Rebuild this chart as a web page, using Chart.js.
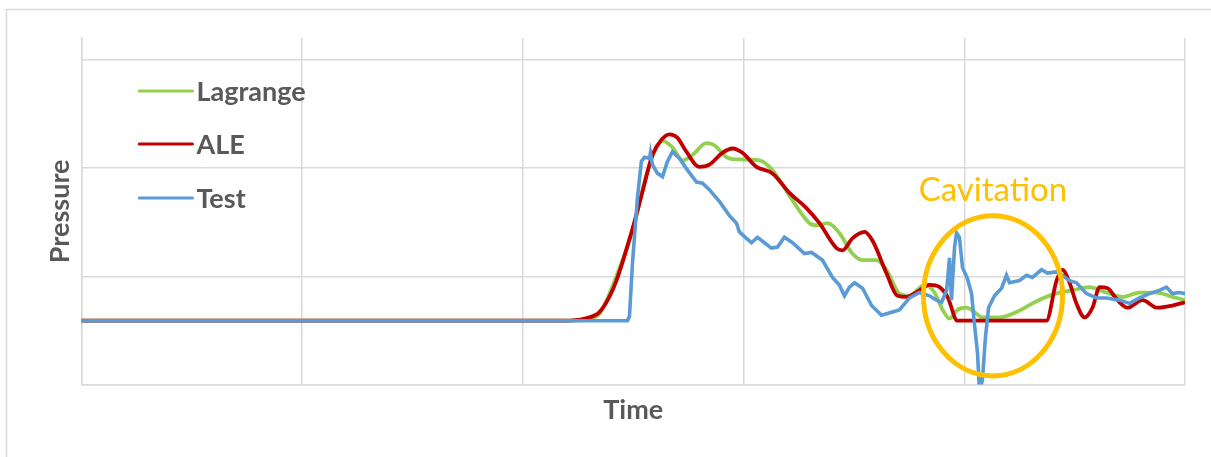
<!DOCTYPE html>
<html>
<head>
<meta charset="utf-8">
<script src="https://cdn.jsdelivr.net/npm/chart.js"></script>
<style>
  html, body { margin: 0; padding: 0; background: #fff; }
  #wrap { width: 1211px; height: 457px; }
</style>
</head>
<body>
<div id="wrap"><canvas id="chart" width="1211" height="457"></canvas></div>
<script>
// --- datos (tiempo y presion en unidades arbitrarias) ---
const lagrangeTime = [0, 22.3, 23.0, 23.5, 24.2, 25.0, 25.6, 26.05, 26.33, 26.78, 27.23, 27.68, 28.32, 28.68, 29.22, 29.68, 30.72, 31.31, 32.22, 32.99, 33.35, 33.8, 34.34, 34.93, 35.39, 36.02, 36.47, 37.06, 37.52, 38.2, 38.65, 38.97, 39.33, 39.69, 40.1, 40.46, 40.82, 41.59, 42.36, 43.09, 43.72, 44.31, 44.9, 45.67, 46.44, 47.17, 47.94, 48.71, 49.43, 50];
const lagrangeP    = [5.9, 5.9, 6.1, 6.6, 9.8, 14.4, 19.4, 21.9, 22.5, 21.9, 20.7, 21.2, 22.3, 22.1, 21.0, 20.8, 20.7, 19.8, 17.0, 14.9, 14.7, 14.9, 14.0, 12.1, 11.5, 11.5, 10.6, 8.4, 8.2, 9.2, 8.5, 7.1, 6.1, 6.9, 7.1, 6.7, 6.2, 6.2, 6.7, 7.5, 8.1, 8.5, 8.7, 9.0, 8.5, 8.1, 8.5, 8.5, 8.1, 7.8];

const aleTime = [0, 21.9, 22.8, 23.47, 23.92, 24.24, 24.97, 25.42, 25.87, 26.28, 26.64, 27.0, 27.41, 28.0, 28.45, 29.04, 29.5, 29.95, 30.58, 31.31, 32.08, 32.85, 33.44, 34.21, 34.48, 34.93, 35.48, 35.84, 36.47, 36.97, 37.38, 37.97, 38.42, 38.88, 39.24, 39.69, 43.72, 44.18, 44.45, 44.77, 45.08, 45.45, 45.81, 46.13, 46.49, 46.94, 47.39, 48.07, 48.75, 49.43, 50];
const aleP    = [5.9, 5.9, 6.1, 6.7, 8.1, 9.6, 14.4, 17.8, 21.2, 22.6, 23.1, 22.8, 21.5, 20.1, 20.3, 21.4, 21.8, 21.4, 20.1, 19.5, 17.7, 16.3, 14.9, 12.6, 12.4, 13.5, 14.1, 13.3, 10.3, 8.2, 8.1, 8.7, 9.2, 9.0, 8.1, 5.9, 5.9, 9.6, 10.6, 9.4, 7.5, 6.2, 7.1, 9.0, 8.9, 7.8, 7.1, 7.8, 7.1, 7.3, 7.6];

const testTime = [0, 24.74, 24.83, 24.97, 25.19, 25.37, 25.51, 25.74, 25.78, 25.87, 26.1, 26.33, 26.55, 26.78, 27.09, 27.46, 27.87, 28.14, 28.45, 28.91, 29.36, 29.68, 29.81, 30.13, 30.36, 30.63, 30.95, 31.26, 31.54, 31.85, 32.22, 32.76, 33.08, 33.57, 34.03, 34.34, 34.57, 34.8, 35.03, 35.39, 35.8, 36.25, 36.75, 37.06, 37.52, 37.97, 38.42, 38.74, 38.97, 39.2, 39.33, 39.42, 39.47, 39.56, 39.65, 39.78, 39.92, 40.14, 40.33, 40.46, 40.6, 40.69, 40.82, 40.96, 41.1, 41.37, 41.69, 41.91, 42.05, 42.5, 42.82, 43.09, 43.5, 43.77, 44.18, 44.31, 44.77, 45.08, 45.54, 45.99, 46.44, 47.03, 47.49, 47.94, 48.39, 48.84, 49.16, 49.43, 49.75, 50];
const testP    = [5.9, 5.9, 6.3, 11.3, 17.2, 20.6, 21.0, 20.9, 21.4, 20.3, 19.5, 19.2, 20.6, 21.5, 20.9, 19.8, 18.7, 18.6, 18.0, 16.9, 15.6, 14.9, 14.1, 13.5, 13.1, 13.6, 13.1, 12.6, 12.7, 13.6, 13.1, 12.1, 12.2, 11.5, 9.9, 9.2, 8.2, 9.0, 9.4, 8.9, 7.3, 6.4, 6.7, 6.9, 8.0, 8.5, 8.2, 7.8, 7.6, 8.7, 11.7, 7.8, 9.6, 12.7, 14.0, 13.6, 10.8, 9.8, 8.4, 5.6, 2.9, -0.6, 0.4, 4.4, 7.1, 8.2, 8.9, 10.1, 9.4, 9.6, 10.1, 9.9, 10.6, 10.3, 10.4, 10.3, 9.6, 9.4, 8.4, 8.0, 8.0, 7.8, 7.5, 8.0, 8.4, 8.7, 9.0, 8.4, 8.5, 8.4];

// zona de cavitacion (centro y radios en unidades de datos)
const cavitationLabel = 'Cavitation';
const cavitationZone = [41.3, 8.2, 3.15, 7.4];

const GRID = '#D9D9D9';
const TEXT = '#595959';

function toPoints(xs, ys) {
  return xs.map((x, i) => ({ x: x, y: ys[i] }));
}

// marco exterior
const frame = {
  id: 'frame',
  beforeDraw(chart) {
    const c = chart.ctx;
    c.save();
    c.fillStyle = '#fff';
    c.fillRect(0, 0, chart.width, chart.height);
    c.strokeStyle = GRID;
    c.lineWidth = 1.5;
    c.strokeRect(6.5, 9.5, chart.width + 10, chart.height + 10);
    c.restore();
  }
};

// leyenda dentro del area del grafico
const innerLegend = {
  id: 'innerLegend',
  afterDraw(chart) {
    const c = chart.ctx;
    const a = chart.chartArea;
    const rows = [53, 106, 160];
    const order = [2, 1, 0];
    c.save();
    c.font = 'bold 27px Lato';
    c.textBaseline = 'middle';
    order.forEach((di, i) => {
      const ds = chart.data.datasets[di];
      const y = a.top + rows[i];
      c.strokeStyle = ds.borderColor;
      c.lineWidth = 3.2;
      c.lineCap = 'round';
      c.beginPath();
      c.moveTo(a.left + 58, y);
      c.lineTo(a.left + 111, y);
      c.stroke();
      c.fillStyle = TEXT;
      c.fillText(ds.label, a.left + 115, y + 1);
    });
    c.restore();
  }
};

// elipse y texto de cavitacion
const cavitation = {
  id: 'cavitation',
  afterDatasetsDraw(chart) {
    const c = chart.ctx;
    const xs = chart.scales.x, ys = chart.scales.y;
    const cx = xs.getPixelForValue(cavitationZone[0]);
    const cy = ys.getPixelForValue(cavitationZone[1]);
    const rx = xs.getPixelForValue(cavitationZone[0] + cavitationZone[2]) - cx;
    const ry = cy - ys.getPixelForValue(cavitationZone[1] + cavitationZone[3]);
    c.save();
    c.strokeStyle = '#FFC000';
    c.lineWidth = 5;
    c.beginPath();
    c.ellipse(cx, cy, rx, ry, 0, 0, Math.PI * 2);
    c.stroke();
    c.fillStyle = '#FFC000';
    c.font = '33px Lato';
    c.textAlign = 'center';
    c.textBaseline = 'alphabetic';
    c.fillText(cavitationLabel, cx, cy - ry - 15);
    c.restore();
  }
};

const ctx = document.getElementById('chart').getContext('2d');
new Chart(ctx, {
  type: 'line',
  data: {
    datasets: [
      {
        label: 'Test',
        data: toPoints(testTime, testP),
        borderColor: '#5B9BD5',
        borderWidth: 3.6,
        pointRadius: 0,
        tension: 0,
        order: 0
      },
      {
        label: 'ALE',
        data: toPoints(aleTime, aleP),
        borderColor: '#C00000',
        borderWidth: 3.8,
        pointRadius: 0,
        cubicInterpolationMode: 'monotone',
        order: 1
      },
      {
        label: 'Lagrange',
        data: toPoints(lagrangeTime, lagrangeP),
        borderColor: '#92D050',
        borderWidth: 3.8,
        pointRadius: 0,
        cubicInterpolationMode: 'monotone',
        order: 2
      }
    ]
  },
  options: {
    responsive: false,
    animation: false,
    layout: { padding: { left: 40, top: 38, right: 26, bottom: 27 } },
    plugins: {
      legend: { display: false },
      tooltip: { enabled: false }
    },
    scales: {
      x: {
        type: 'linear',
        min: 0,
        max: 50,
        ticks: { display: false, stepSize: 10, includeBounds: false },
        grid: { color: GRID, lineWidth: 1.5, drawTicks: false },
        border: { color: GRID, width: 1.5 },
        title: {
          display: true,
          text: 'Time',
          color: TEXT,
          font: { family: 'Lato', size: 27, weight: 'bold' },
          padding: { top: 9, bottom: 4 }
        }
      },
      y: {
        type: 'linear',
        min: 0,
        max: 32,
        ticks: { display: false, stepSize: 10, includeBounds: false },
        grid: { color: GRID, lineWidth: 1.5, drawTicks: false },
        border: { color: GRID, width: 1.5 },
        title: {
          display: true,
          text: 'Pressure',
          color: TEXT,
          font: { family: 'Lato', size: 27, weight: 'bold' },
          padding: { top: 4, bottom: 5 }
        }
      }
    }
  },
  plugins: [frame, cavitation, innerLegend]
});
</script>
</body>
</html>
